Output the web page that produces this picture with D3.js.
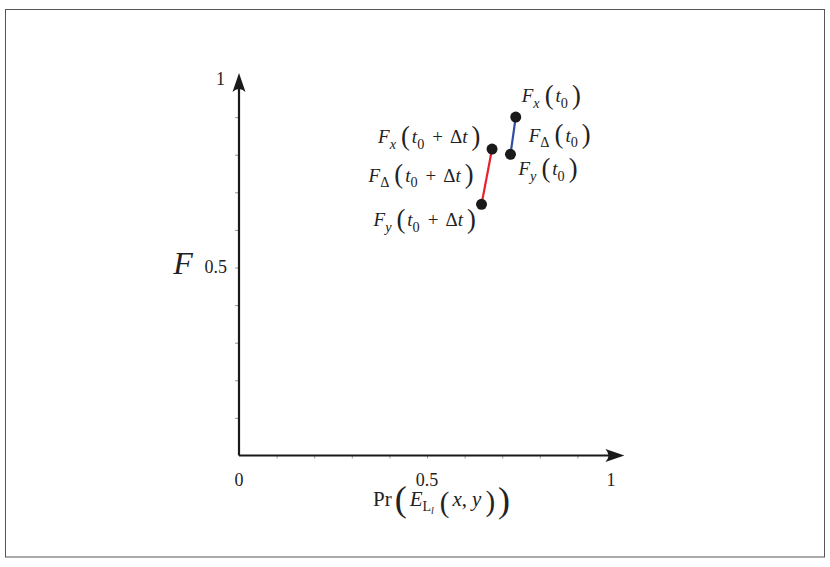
<!DOCTYPE html>
<html>
<head>
<meta charset="utf-8">
<script src="https://cdn.jsdelivr.net/npm/d3@7"></script>
<style>
  body { margin: 0; background: #fff; }
  text { font-family: "Liberation Serif", "DejaVu Serif", serif; fill: #222; }
</style>
</head>
<body>
<svg id="chart"></svg>
<script>
// values
let xTicks = [0.1, 0.2, 0.3, 0.4, 0.5, 0.6, 0.7, 0.8, 0.9]
let yTicks = [0.1, 0.2, 0.3, 0.4, 0.5, 0.6, 0.7, 0.8, 0.9]
let xTickLabels = [0, 0.5, 1]
let yTickLabels = [0.5, 1]

// segment at t0 (blue) and at t0 + Δt (red): [F_x point, F_y point]
let prT0 = [0.736, 0.722]
let fT0 = [0.900, 0.801]
let prTdt = [0.673, 0.645]
let fTdt = [0.815, 0.668]

let width = 830
let height = 567

let svg = d3.select("#chart")
    .attr("width", width)
    .attr("height", height)

// outer frame
svg.append("rect")
    .attr("x", 5.5).attr("y", 9.5)
    .attr("width", 819).attr("height", 547.5)
    .attr("fill", "none")
    .attr("stroke", "#555")
    .attr("stroke-width", 1)

let xScale = d3.scaleLinear().domain([0, 1]).range([239, 615])
let yScale = d3.scaleLinear().domain([0, 1]).range([455.5, 79.5])

// tick marks via d3 axes, domain line replaced by arrows
let xAxis = svg.append("g")
    .attr("transform", `translate(0, ${yScale(0)})`)
    .call(d3.axisBottom(xScale).tickValues(xTicks).tickSize(3).tickFormat(""))
xAxis.select(".domain").remove()
xAxis.selectAll("line").attr("stroke", "#999")

let yAxis = svg.append("g")
    .attr("transform", `translate(${xScale(0)}, 0)`)
    .call(d3.axisLeft(yScale).tickValues(yTicks).tickSize(4).tickFormat(""))
yAxis.select(".domain").remove()
yAxis.selectAll("line").attr("stroke", "#999")

// axis lines with LaTeX-like arrowheads
let xEnd = xScale(1.025)
let yEnd = yScale(1.017)
svg.append("path")
    .attr("d", `M${xScale(0)},${yScale(0)} H${xEnd - 6} M${xScale(0)},${yScale(0)} V${yEnd + 6}`)
    .attr("stroke", "#1a1a1a")
    .attr("stroke-width", 2.2)
    .attr("fill", "none")

function arrowHead(tipX, tipY, angle) {
    svg.append("path")
        .attr("d", "M0,0 L-19,-6.5 Q-13,0 -19,6.5 Z")
        .attr("transform", `translate(${tipX},${tipY}) rotate(${angle})`)
        .attr("fill", "#1a1a1a")
}
arrowHead(xEnd, yScale(0), 0)
arrowHead(xScale(0), yEnd, -90)

// tick labels
svg.selectAll(".xlab")
    .data(xTickLabels)
    .enter()
    .append("text")
    .attr("x", d => xScale(d) - (d === 1 ? 4 : 0))
    .attr("y", yScale(0) + 30)
    .attr("text-anchor", "middle")
    .attr("font-size", 18)
    .text(d => d)

svg.selectAll(".ylab")
    .data(yTickLabels)
    .enter()
    .append("text")
    .attr("x", d => xScale(0) - (d === 1 ? 14 : 12))
    .attr("y", d => yScale(d) + 5)
    .attr("text-anchor", "end")
    .attr("font-size", 18)
    .text(d => d)

// y axis title
svg.append("text")
    .attr("x", 183)
    .attr("y", 274)
    .attr("text-anchor", "middle")
    .attr("font-size", 32)
    .attr("font-style", "italic")
    .text("F")

// small math text helper: letters italic, _c subscript, parens enlarged
function mathLabel(x, y, spec, fs) {
    let t = svg.append("text").attr("x", x).attr("y", y).attr("font-size", fs)
    let cur = 0
    let i = 0
    let prev = ""
    while (i < spec.length) {
        let c = spec[i]
        let sub = false
        if (c === "_") { sub = true; i++; c = spec[i] }
        if (c === " ") { i++; continue }
        let big = c === "(" || c === ")"
        let off = sub ? fs * 0.3 : (big ? fs * 0.08 : 0)
        let s = t.append("tspan").attr("dy", off - cur).text(c)
        cur = off
        if (/[a-zA-Z]/.test(c)) s.attr("font-style", "italic")
        if (sub) s.attr("font-size", fs * 0.75)
        if (big) s.attr("font-size", fs * 1.4).attr("font-weight", 300)
        let dx = 0
        if (c === "(") dx = 5
        if (c === ")") dx = 4
        if (prev === "(") dx = 2
        if (c === "+") dx = 8
        if (prev === "+") dx = 7
        if (dx) s.attr("dx", dx)
        prev = c
        i++
    }
    return t
}

let fs = 19
mathLabel(xScale(prT0[0]) + 6, yScale(fT0[0]) - 15, "F_x(t_0)", fs)
mathLabel(xScale(prT0[0]) + 13, yScale((fT0[0] + fT0[1]) / 2) + 6, "F_Δ(t_0)", fs)
mathLabel(xScale(prT0[1]) + 8, yScale(fT0[1]) + 21, "F_y(t_0)", fs)
mathLabel(xScale(prTdt[0]) - 114, yScale(fTdt[0]) - 6, "F_x(t_0 + Δt)", fs)
mathLabel(xScale(prTdt[1]) - 113, yScale((fTdt[0] + fTdt[1]) / 2) + 5, "F_Δ(t_0 + Δt)", fs)
mathLabel(xScale(prTdt[1]) - 108, yScale(fTdt[1]) + 22, "F_y(t_0 + Δt)", fs)

// x axis title: Pr(E_{L_l}(x, y))
let xt = svg.append("text").attr("x", 373).attr("y", 506).attr("font-size", 21)
xt.append("tspan").text("Pr")
xt.append("tspan").attr("font-size", 36).attr("dx", 3).attr("dy", 5).attr("font-weight", 300).text("(")
xt.append("tspan").attr("dy", -5).attr("dx", 3).attr("font-style", "italic").text("E")
xt.append("tspan").attr("dy", 5).attr("font-size", 14).text("L")
xt.append("tspan").attr("dy", 3).attr("font-size", 10).attr("font-style", "italic").text("l")
xt.append("tspan").attr("dy", -2).attr("font-size", 29).attr("dx", 6).attr("font-weight", 300).text("(")
xt.append("tspan").attr("dy", -6).attr("dx", 3).attr("font-style", "italic").text("x")
xt.append("tspan").text(",")
xt.append("tspan").attr("dx", 5).attr("font-style", "italic").text("y")
xt.append("tspan").attr("dy", 5).attr("dx", 4).attr("font-size", 29).attr("font-weight", 300).text(")")
xt.append("tspan").attr("dy", 1).attr("dx", 3).attr("font-size", 36).attr("font-weight", 300).text(")")

// segments and points
let segments = [
    { xs: prT0, ys: fT0, color: "#2e4ea0" },
    { xs: prTdt, ys: fTdt, color: "#e8212b" }
]

segments.forEach(seg => {
    svg.append("line")
        .attr("x1", xScale(seg.xs[0])).attr("y1", yScale(seg.ys[0]))
        .attr("x2", xScale(seg.xs[1])).attr("y2", yScale(seg.ys[1]))
        .attr("stroke", seg.color)
        .attr("stroke-width", 2.2)

    svg.selectAll(null)
        .data(seg.xs.map((d, i) => [d, seg.ys[i]]))
        .enter()
        .append("circle")
        .attr("cx", d => xScale(d[0]))
        .attr("cy", d => yScale(d[1]))
        .attr("r", 5.5)
        .attr("fill", "#1a1a1a")
})
</script>
</body>
</html>
